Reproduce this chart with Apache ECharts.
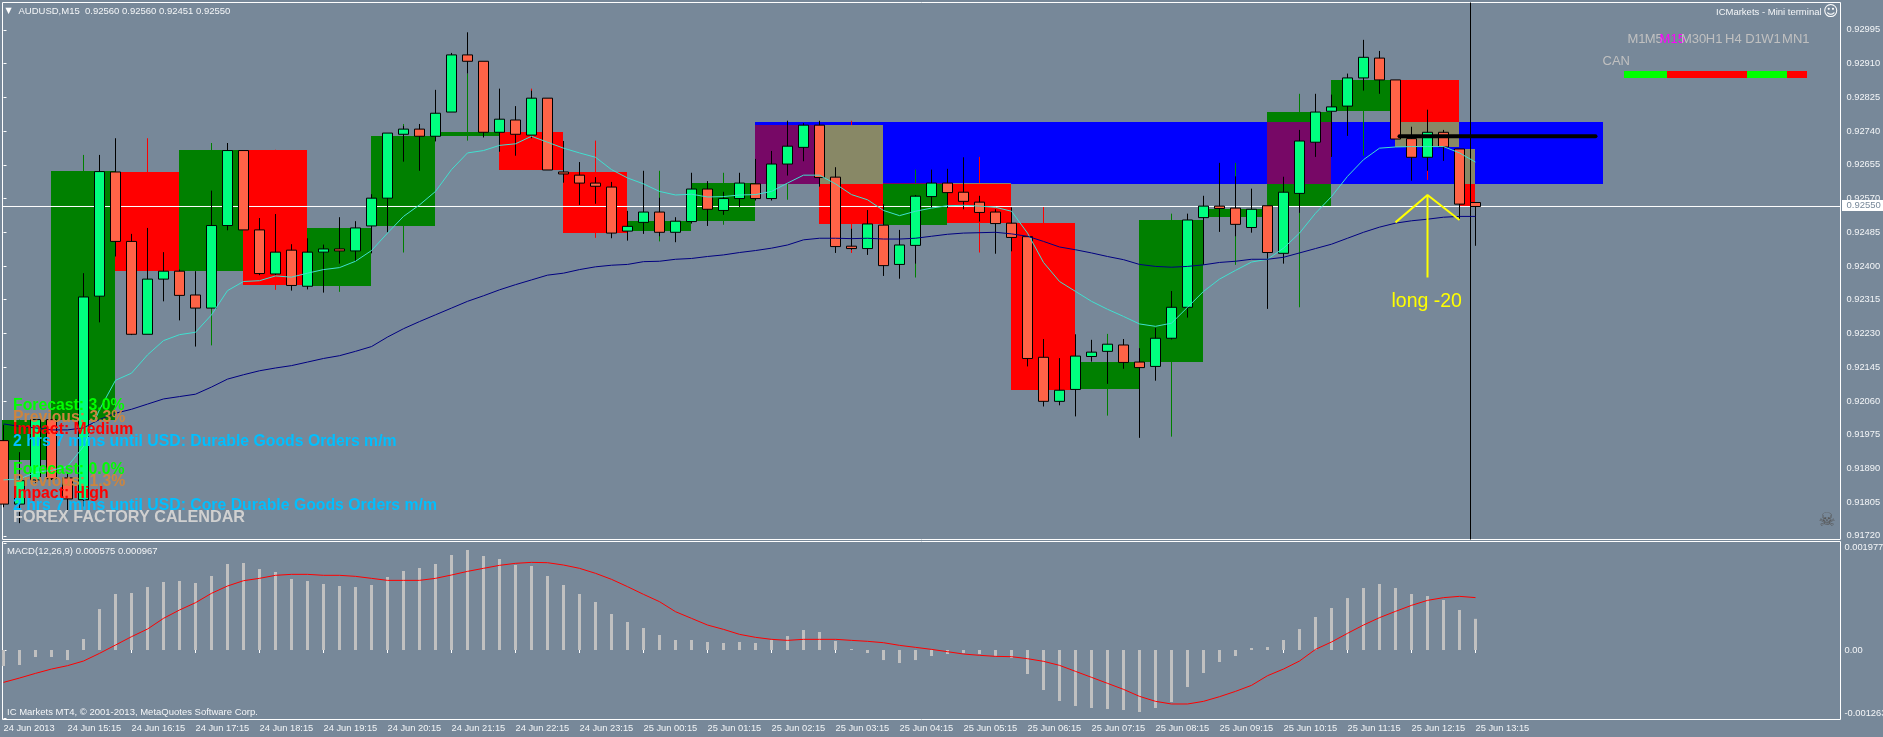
<!DOCTYPE html>
<html><head><meta charset="utf-8"><title>AUDUSD M15</title>
<style>html,body{margin:0;padding:0;background:#778899;overflow:hidden}#c{width:1883px;height:737px}</style>
<script src="https://cdn.jsdelivr.net/npm/echarts@6/dist/echarts.min.js"></script>
</head><body><div id="c"></div>
<script>
// Prices in points (1 point = 0.00001), one entry per M15 bar, 24 Jun 2013 14:15 onward
const open=[91960,91800,91861,92013,91866,91811,92324,92637,92462,92228,92367,92387,92327,92294,92502,92691,92491,92380,92440,92349,92435,92443,92438,92501,92571,92732,92745,92727,92788,92932,92916,92737,92768,92730,92823,92637,92629,92609,92599,92488,92510,92536,92485,92512,92594,92540,92570,92607,92570,92657,92699,92755,92624,92450,92444,92503,92404,92452,92575,92609,92586,92561,92536,92508,92474,92170,92059,92089,92172,92185,92201,92158,92147,92218,92296,92522,92551,92546,92497,92552,92432,92583,92712,92790,92803,92874,92924,92869,92721,92674,92737,92695,92560];
const close=[91800,91859,92013,91864,91813,92322,92638,92462,92228,92367,92387,92326,92294,92502,92691,92491,92381,92435,92351,92435,92443,92438,92496,92571,92735,92745,92727,92785,92932,92916,92737,92770,92732,92823,92642,92632,92609,92601,92483,92500,92536,92485,92513,92594,92543,92570,92609,92570,92657,92702,92755,92623,92449,92444,92506,92401,92453,92576,92609,92585,92563,92535,92507,92472,92167,92059,92087,92173,92183,92203,92157,92144,92218,92296,92516,92551,92545,92505,92543,92434,92586,92715,92788,92801,92874,92926,92869,92720,92674,92737,92700,92556,92550];
const high=[92000,91931,92014,92014,91878,92382,92680,92722,92481,92496,92435,92391,92387,92590,92710,92691,92521,92531,92455,92470,92454,92523,92513,92581,92735,92753,92758,92844,92937,92989,92916,92847,92803,92842,92823,92715,92662,92624,92612,92539,92640,92572,92523,92635,92614,92587,92635,92670,92690,92766,92760,92766,92649,92494,92541,92556,92491,92579,92643,92645,92674,92577,92543,92548,92474,92216,92168,92228,92214,92203,92216,92193,92244,92337,92532,92577,92660,92626,92595,92552,92625,92743,92834,92832,92885,92970,92942,92869,92751,92794,92743,92695,92560];
const low=[91792,91752,91853,91861,91783,91794,92258,92424,92226,92228,92311,92263,92197,92294,92490,92491,92377,92377,92338,92341,92333,92406,92412,92432,92485,92663,92640,92714,92788,92885,92724,92688,92678,92722,92642,92610,92554,92557,92470,92464,92481,92475,92460,92507,92501,92529,92549,92565,92565,92628,92664,92600,92433,92441,92428,92375,92368,92406,92546,92546,92543,92512,92431,92437,92147,92046,92049,92021,92159,92103,92141,91967,92111,92215,92270,92403,92486,92475,92484,92292,92406,92534,92675,92675,92728,92842,92834,92720,92615,92640,92665,92517,92451];
const emaFast=[91861,91863,91880,91885,91895,91945,92038,92112,92130,92176,92212,92227,92233,92277,92338,92361,92363,92375,92372,92382,92391,92396,92412,92439,92483,92525,92554,92588,92643,92685,92691,92704,92708,92727,92712,92697,92685,92674,92643,92622,92607,92588,92579,92581,92574,92575,92579,92580,92588,92609,92629,92629,92607,92580,92567,92540,92527,92538,92546,92552,92553,92551,92548,92538,92483,92409,92361,92336,92311,92291,92273,92254,92248,92256,92296,92336,92367,92389,92410,92417,92445,92483,92533,92575,92626,92668,92697,92700,92701,92701,92701,92685,92662];
const emaSlow=[92002,91996,91992,91987,91987,91992,92013,92029,92039,92052,92065,92071,92077,92095,92115,92126,92136,92143,92149,92158,92167,92174,92185,92197,92221,92242,92260,92277,92294,92311,92325,92340,92353,92365,92377,92382,92391,92398,92402,92404,92411,92412,92417,92419,92424,92428,92434,92439,92445,92453,92466,92470,92470,92469,92470,92468,92468,92470,92475,92480,92483,92484,92485,92481,92475,92462,92448,92441,92433,92424,92416,92404,92399,92397,92399,92403,92409,92412,92417,92417,92422,92433,92444,92455,92470,92485,92498,92508,92514,92518,92523,92525,92525];
// MACD panel, in millionths
const macdHist=[-295,-277,-129,-129,-185,203,756,1033,1052,1162,1255,1273,1236,1365,1587,1605,1494,1439,1310,1273,1218,1181,1162,1199,1347,1458,1513,1587,1753,1845,1734,1679,1568,1550,1365,1199,1033,886,664,517,406,277,185,185,148,129,148,129,185,258,369,332,166,18,-55,-185,-240,-185,-111,-74,-55,-74,-111,-148,-443,-738,-941,-1033,-1070,-1089,-1107,-1144,-1070,-959,-683,-424,-221,-111,37,55,185,387,609,775,959,1144,1218,1144,1033,996,923,738,575];
const macdSignal=[-597,-517,-431,-351,-289,-203,-62,92,246,387,584,738,873,1046,1181,1279,1322,1378,1396,1396,1378,1378,1359,1322,1285,1285,1285,1322,1384,1451,1507,1562,1599,1617,1611,1568,1507,1415,1304,1169,1027,892,707,584,461,381,289,234,197,178,197,197,197,178,160,135,86,49,12,-31,-74,-98,-117,-123,-160,-209,-283,-394,-504,-615,-726,-855,-947,-996,-996,-947,-861,-763,-652,-474,-351,-203,12,148,308,461,597,713,824,916,966,990,967];
// H1 candles drawn as boxes behind the M15 bars: from/to in bar numbers
const h1From=[-1,3,7,11,15,19,23,27,31,35,39,43,47,51,55,59,63,67,71,75,79,83,87,91];
const h1To=[3,7,11,15,19,23,27,31,35,39,43,47,51,55,59,63,67,71,75,79,83,87,91,92];
const h1Top=[92013,92640,92638,92693,92693,92496,92728,92738,92738,92638,92514,92610,92756,92756,92610,92610,92509,92159,92517,92544,92789,92869,92869,92695];
const h1Bottom=[91912,92013,92388,92388,92353,92350,92501,92728,92643,92484,92489,92514,92606,92506,92504,92509,92088,92091,92159,92524,92552,92791,92701,92552];
const h1High=[92013,92680,92722,92710,92693,92496,92758,92885,92847,92716,92640,92635,92766,92766,92643,92675,92549,92229,92532,92660,92834,92869,92794,92695];
const h1Low=[91912,91800,92388,92200,92340,92335,92434,92716,92643,92471,92462,92504,92567,92433,92371,92434,92088,92023,91970,92403,92296,92678,92617,92552];
const h1Up=[1,1,0,1,0,1,1,1,0,0,1,1,1,0,1,0,0,1,1,1,1,1,0,0];
// Blue supply zone
const zoneFrom=47,zoneTo=100,zoneTop=92764,zoneBottom=92606;
// Drawn objects
const blackLineX=[87.25,99.5],blackLineY=[92727,92727];
const yellowX=[87,89,91],yellowY=[92510,92579,92516];
const yellowStemX=[89,89],yellowStemY=[92579,92371];
const crossBar=91.6875,bidPoints=92550;
// Currency strength strip
const stripEdges=[101.34,103.98,108.98,111.5,112.75],stripColors=['#00ff00','#ff0000','#00ff00','#ff0000'],stripTop=92891,stripBottom=92874;
// Axes
const priceTicks=[0.91720,0.91805,0.91890,0.91975,0.92060,0.92145,0.92230,0.92315,0.92400,0.92485,0.92570,0.92655,0.92740,0.92825,0.92910,0.92995];
const macdTicks=[-0.001263,0,0.001977];
const timeTicks=[0,4,8,12,16,20,24,28,32,36,40,44,48,52,56,60,64,68,72,76,80,84,88,92];
const timeLabels=['24 Jun 2013','24 Jun 15:15','24 Jun 16:15','24 Jun 17:15','24 Jun 18:15','24 Jun 19:15','24 Jun 20:15','24 Jun 21:15','24 Jun 22:15','24 Jun 23:15','25 Jun 00:15','25 Jun 01:15','25 Jun 02:15','25 Jun 03:15','25 Jun 04:15','25 Jun 05:15','25 Jun 06:15','25 Jun 07:15','25 Jun 08:15','25 Jun 09:15','25 Jun 10:15','25 Jun 11:15','25 Jun 12:15','25 Jun 13:15'];
const tfLabels=['M1','M5','M15','M30','H1','H4','D1','W1','MN1'];
const tfX=[1627.4,1644.7,1659.6,1680.9,1705.8,1725.1,1745.2,1761.2,1782.1];

const P=1e-5,M=1e-6,BG='#778899',INK='#f4f6f8';
const FONT='"Liberation Sans",Arial,sans-serif';
const candles=open.map((o,i)=>[i,o*P,close[i]*P,low[i]*P,high[i]*P]);
const xy=(xs,ys,k)=>xs.map((x,i)=>[x,ys[i]*k]);
const byIndex=(ys,k)=>ys.map((y,i)=>[i,y*k]);

function rect(api,x0,x1,top,bottom,fill){
  const a=api.coord([x0,top]),b=api.coord([x1,bottom]);
  const l=Math.floor(a[0]),r=Math.floor(b[0]),t=Math.round(a[1]),h=Math.round(b[1])-t;
  return {type:'rect',shape:{x:l,y:t,width:r-l,height:h},style:{fill:fill}};
}
const h1Data=h1From.map((f,i)=>[f,h1To[i],h1Top[i]*P,h1Bottom[i]*P,h1High[i]*P,h1Low[i]*P,h1Up[i]]);
function renderH1(params,api){
  const f=api.value(0),t=api.value(1),top=api.value(2),bot=api.value(3),hi=api.value(4),lo=api.value(5),up=api.value(6);
  const c=[];
  const mid=(f+t)/2;
  if(t-f===4){
    const a=api.coord([mid,hi]),b=api.coord([mid,lo]);
    const x=Math.floor(a[0])+.5;
    c.push({type:'line',shape:{x1:x,y1:a[1],x2:x,y2:b[1]},style:{stroke:up?'#008000':'#ff0000',lineWidth:1}});
  }
  c.push(rect(api,f,t,top,bot,up?'#008000':'#ff0000'));
  const zt=Math.min(top,zoneTop*P),zb=Math.max(bot,zoneBottom*P),zf=Math.max(f,zoneFrom),zr=Math.min(t,zoneTo);
  if(zt>zb&&zr>zf) c.push(rect(api,zf,zr,zt,zb,up?'#770866':'#888866'));
  return {type:'group',children:c};
}
const stripData=stripColors.map((c,i)=>[stripEdges[i],stripEdges[i+1],stripTop*P,stripBottom*P,i]);

const txt=(text,x,y,fill,font,extra)=>({type:'text',x:x,y:y,z:50,silent:true,style:Object.assign({text:text,fill:fill,font:font,textVerticalAlign:'middle'},extra||{})});
const boldBig='bold 15.8px '+FONT, small='9.5px '+FONT;
const graphics=[
  txt('▼',5.5,11,'#fff','8px "DejaVu Sans"'),
  txt('AUDUSD,M15  '+[open[92],high[92],low[92],close[92]].map(v=>(v*P).toFixed(5)).join(' '),18.5,11,INK,small),
  txt('ICMarkets - Mini terminal',1716,12,INK,small),
  txt('☺',1823,12.5,'#fff','15px "DejaVu Sans"'),
  txt('CAN',1602.5,61,'#c0c0c0','13px '+FONT),
  txt('Forecast: 3.0%',13,406,'#00ff00',boldBig),
  txt('Previous: 3.3%',13,418,'#cd853f',boldBig),
  txt('Impact: Medium',13,430,'#ff0000',boldBig),
  txt('2 hrs 7 mins until USD: Durable Goods Orders m/m',13,442,'#00bfff',boldBig),
  txt('Forecast: 0.0%',13,470,'#00ff00',boldBig),
  txt('Previous: 1.3%',13,482,'#cd853f',boldBig),
  txt('Impact: High',13,494,'#ff0000',boldBig),
  txt('2 hrs 7 mins until USD: Core Durable Goods Orders m/m',13,506,'#00bfff',boldBig),
  txt('FOREX FACTORY CALENDAR',13,518,'#d0d0d0','bold 16.2px '+FONT),
  txt('long -20',1391.5,302,'#ffff00','19.5px '+FONT),
  txt('☠',1818.5,521,'#555555','19px "DejaVu Sans"'),
  {type:'rect',z:49,silent:true,shape:{x:1842,y:200,width:41,height:11},style:{fill:'#fff'}},
  txt((bidPoints*P).toFixed(5),1846.5,205.5,BG,small),
  txt('MACD(12,26,9) '+(macdHist[92]*M).toFixed(6)+' '+(macdSignal[92]*M).toFixed(6),7,551,INK,small),
  txt('IC Markets MT4, © 2001-2013, MetaQuotes Software Corp.',7,712,INK,small)
];
tfLabels.forEach((t,i)=>graphics.push(txt(t,tfX[i],39.5,t==='M15'?'#ff00ff':'#c0c0c0','13px '+FONT)));

const chart=echarts.init(document.getElementById('c'),null,{renderer:'canvas'});
chart.setOption({
  animation:false,backgroundColor:BG,
  tooltip:{show:false},
  graphic:{elements:graphics},
  grid:[
    {left:2.5,top:2.5,width:1838,height:537,show:true,borderColor:'#fff',borderWidth:1,backgroundColor:'transparent',outerBoundsMode:'none'},
    {left:2.5,top:541.5,width:1838,height:178,show:true,borderColor:'#fff',borderWidth:1,backgroundColor:'transparent',outerBoundsMode:'none'}
  ],
  xAxis:[
    {type:'value',gridIndex:0,min:-0.0625,max:114.8125,show:false,splitLine:{show:false}},
    {type:'value',gridIndex:1,min:-0.0625,max:114.8125,splitLine:{show:false},axisLine:{show:false},
     axisTick:{show:true,length:3,lineStyle:{color:'#fff'},customValues:timeTicks},
     axisLabel:{show:true,customValues:timeTicks,color:INK,fontFamily:'Liberation Sans',fontSize:9.3,margin:4,align:'left',hideOverlap:false,
       formatter:v=>timeLabels[timeTicks.indexOf(Math.round(v))]||''}}
  ],
  yAxis:[
    {type:'value',gridIndex:0,position:'right',min:0.917108,max:0.930641,splitLine:{show:false},axisLine:{show:false},
     axisTick:{show:true,length:3,lineStyle:{color:'#fff'},customValues:priceTicks},
     axisLabel:{show:true,customValues:priceTicks,color:INK,fontFamily:'Liberation Sans',fontSize:9.3,margin:6,hideOverlap:false,formatter:v=>v.toFixed(5)}},
    {type:'value',gridIndex:1,position:'right',min:-0.001282,max:0.002002,splitLine:{show:false},axisLine:{show:false},
     axisTick:{show:true,length:3,lineStyle:{color:'#fff'},customValues:macdTicks},
     axisLabel:{show:true,customValues:macdTicks,color:INK,fontFamily:'Liberation Sans',fontSize:9.3,margin:4,hideOverlap:false,
       formatter:v=>v>0?'{t|'+v.toFixed(6)+'}':v<0?'{b|'+v.toFixed(6)+'}':'0.00',
       rich:{t:{padding:[10,0,0,0],color:INK,fontSize:9.3,fontFamily:'Liberation Sans'},b:{padding:[0,0,10,0],color:INK,fontSize:9.3,fontFamily:'Liberation Sans'}}}}
  ],
  series:[
    {name:'Zone',type:'custom',xAxisIndex:0,yAxisIndex:0,z:1,clip:true,silent:true,
     data:[[zoneFrom,zoneTo,zoneTop*P,zoneBottom*P]],encode:{x:[0,1],y:[2,3]},
     renderItem:(p,api)=>rect(api,api.value(0),api.value(1),api.value(2),api.value(3),'#0000ff')},
    {name:'H1',type:'custom',xAxisIndex:0,yAxisIndex:0,z:2,clip:true,silent:true,
     data:h1Data,encode:{x:[0,1],y:[2,3]},renderItem:renderH1},
    {name:'Bid',type:'line',xAxisIndex:0,yAxisIndex:0,z:3,silent:true,symbol:'none',
     data:[[-0.0625,bidPoints*P],[114.8125,bidPoints*P]],lineStyle:{color:'#fff',width:1}},
    {name:'Crosshair',type:'line',xAxisIndex:0,yAxisIndex:0,z:3,silent:true,symbol:'none',
     data:[[crossBar,0.917108],[crossBar,0.930641]],lineStyle:{color:'#000',width:1}},
    {name:'AUDUSD',type:'candlestick',xAxisIndex:0,yAxisIndex:0,z:4,silent:true,barWidth:10,
     data:candles,encode:{x:0,y:[1,2,3,4]},
     itemStyle:{color:'#00ff7f',color0:'#ff6347',borderColor:'#000',borderColor0:'#000',borderWidth:1}},
    {name:'EMA fast',type:'line',xAxisIndex:0,yAxisIndex:0,z:5,silent:true,symbol:'none',data:byIndex(emaFast,P),lineStyle:{color:'#40e0d0',width:1}},
    {name:'EMA slow',type:'line',xAxisIndex:0,yAxisIndex:0,z:5,silent:true,symbol:'none',data:byIndex(emaSlow,P),lineStyle:{color:'#000080',width:1}},
    {name:'Level',type:'line',xAxisIndex:0,yAxisIndex:0,z:6,silent:true,symbol:'none',data:xy(blackLineX,blackLineY,P),lineStyle:{color:'#000',width:4,cap:'round'}},
    {name:'Pattern',type:'line',xAxisIndex:0,yAxisIndex:0,z:6,silent:true,symbol:'none',data:xy(yellowX,yellowY,P),lineStyle:{color:'#ffff00',width:2}},
    {name:'Arrow',type:'line',xAxisIndex:0,yAxisIndex:0,z:6,silent:true,symbol:'none',data:xy(yellowStemX,yellowStemY,P),lineStyle:{color:'#ffff00',width:2}},
    {name:'Strength',type:'custom',xAxisIndex:0,yAxisIndex:0,z:6,silent:true,
     data:stripData,encode:{x:[0,1],y:[2,3]},
     renderItem:(p,api)=>rect(api,api.value(0),api.value(1),api.value(2),api.value(3),stripColors[api.value(4)])},
    {name:'MACD',type:'bar',xAxisIndex:1,yAxisIndex:1,z:2,silent:true,barWidth:3,data:byIndex(macdHist,M),itemStyle:{color:'#c0c0c0'}},
    {name:'Signal',type:'line',xAxisIndex:1,yAxisIndex:1,z:3,silent:true,symbol:'none',data:byIndex(macdSignal,M),lineStyle:{color:'#ff0000',width:1}}
  ]
});
</script></body></html>
